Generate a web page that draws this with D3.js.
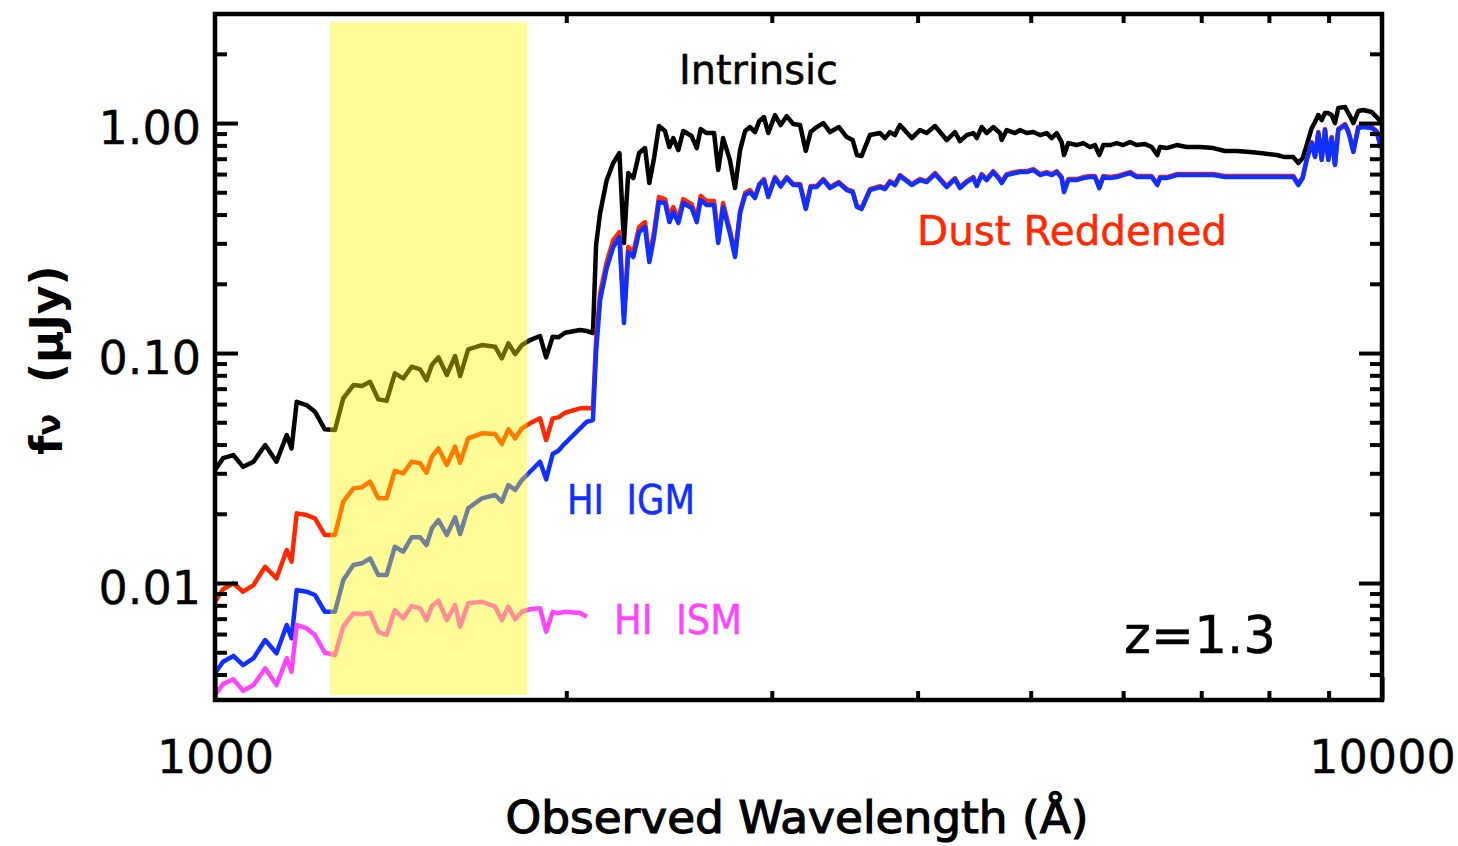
<!DOCTYPE html>
<html>
<head>
<meta charset="utf-8">
<script src="https://cdn.jsdelivr.net/npm/d3@7"></script>
<style>
  body { margin: 0; background: #fff; }
  svg text { font-family: "DejaVu Sans", sans-serif; }
</style>
</head>
<body>
<svg id="chart" width="1458" height="846"></svg>
<script>
const WIDTH = 1458;
const HEIGHT = 846;
const plot = { left: 215, right: 1382, top: 14, bottom: 700 };

/* UV side: all four spectra share this wavelength grid (Angstrom) */
const waveUV = [1000, 1016, 1037, 1057, 1079, 1104, 1129, 1152, 1163, 1175, 1198, 1218, 1242, 1267, 1288,
  1314, 1336, 1358, 1380, 1403, 1426, 1450, 1474, 1499, 1518, 1534, 1554, 1580, 1606, 1622,
  1648, 1693, 1738, 1761, 1784, 1808, 1832, 1862, 1899, 1922, 1947, 1969, 1995, 2055, 2083];
const intrinsicUV = [0.0310, 0.0349, 0.0360, 0.0320, 0.0337, 0.0398, 0.0337, 0.0440, 0.0385, 0.0614, 0.0594, 0.0556, 0.0466, 0.0463, 0.0635,
  0.0726, 0.0719, 0.0750, 0.0629, 0.0620, 0.0816, 0.0776, 0.0872, 0.0849, 0.0763, 0.0887, 0.0958, 0.0802, 0.0971, 0.0794,
  0.1038, 0.1083, 0.1065, 0.0948, 0.1102, 0.0990, 0.1083, 0.1139, 0.1186, 0.0958, 0.1177, 0.1170, 0.1225, 0.1259, 0.1246];
const reddenedUV = [0.00829, 0.00939, 0.00997, 0.00917, 0.00980, 0.01177, 0.01048, 0.01392, 0.01238, 0.02009, 0.01975, 0.01911, 0.01617, 0.01617, 0.02257,
  0.02580, 0.02607, 0.02757, 0.02335, 0.02335, 0.03078, 0.02999, 0.03368, 0.03315, 0.03017, 0.03540, 0.03853, 0.03259, 0.03915, 0.03334,
  0.04256, 0.04475, 0.04444, 0.04020, 0.04659, 0.04256, 0.04705, 0.04946, 0.05200, 0.04184, 0.05200, 0.05252, 0.05499, 0.05750, 0.05767];
const igmUV = [0.00405, 0.00455, 0.00482, 0.00440, 0.00471, 0.00565, 0.00495, 0.00657, 0.00575, 0.00932, 0.00917, 0.00887, 0.00750, 0.00750, 0.01030,
  0.01197, 0.01218, 0.01280, 0.01083, 0.01083, 0.01438, 0.01368, 0.01580, 0.01580, 0.01463, 0.01729, 0.01879, 0.01617, 0.01930, 0.01633,
  0.02113, 0.02335, 0.02414, 0.02257, 0.02668, 0.02537, 0.02804, 0.03047, 0.03368, 0.02824, 0.03638, 0.03760, 0.04049, 0.04705, 0.05028];
const ismUV = [0.00326, 0.00364, 0.00381, 0.00340, 0.00360, 0.00426, 0.00360, 0.00471, 0.00411, 0.00657, 0.00635, 0.00594, 0.00498, 0.00486, 0.00646,
  0.00738, 0.00731, 0.00743, 0.00614, 0.00594, 0.00763, 0.00702, 0.00794, 0.00776, 0.00690, 0.00794, 0.00838, 0.00690, 0.00802, 0.00646,
  0.00816, 0.00829, 0.00789, 0.00690, 0.00789, 0.00695, 0.00750, 0.00769, 0.00776, 0.00614, 0.00750, 0.00738, 0.00750, 0.00741, 0.00714];

/* optical side: intrinsic, reddened and IGM only (ISM curve stops at ~2080 A) */
const waveOpt = [2108, 2121, 2138, 2166, 2194, 2221, 2241, 2260, 2283, 2309, 2336, 2356, 2378, 2401, 2430,
  2451, 2470, 2495, 2519, 2561, 2587, 2607, 2638, 2677, 2699, 2725, 2762, 2790, 2818, 2846,
  2874, 2902, 2927, 2954, 2979, 3019, 3053, 3090, 3130, 3172, 3208, 3239, 3278, 3321, 3365,
  3425, 3478, 3519, 3549, 3581, 3641, 3714, 3751, 3788, 3825, 3863, 3954, 4019, 4072, 4140,
  4236, 4306, 4349, 4407, 4465, 4495, 4539, 4584, 4644, 4706, 4722, 4769, 4848, 4895, 4961,
  5026, 5093, 5160, 5212, 5263, 5315, 5340, 5385, 5475, 5547, 5621, 5676, 5725, 5770, 5847,
  5925, 6002, 6082, 6163, 6265, 6348, 6419, 6453, 6539, 6669, 6802, 6983, 7169, 7336, 7507,
  7707, 7861, 8124, 8258, 8395, 8478, 8552, 8619, 8705, 8762, 8819, 8878, 8936, 8995, 9055,
  9114, 9174, 9296, 9357, 9388, 9450, 9543, 9638, 9799, 9896, 9980];
const intrinsicOpt = [0.1222, 0.2948, 0.4062, 0.5652, 0.6701, 0.7407, 0.3008, 0.6063, 0.5767, 0.7407, 0.7786, 0.5484, 0.7045, 0.9704, 0.9231,
  0.7864, 0.8605, 0.7632, 0.9231, 0.8780, 0.7786, 0.9417, 0.9049, 0.9049, 0.6248, 0.8605, 0.6905, 0.5217, 0.7632, 0.9231,
  0.9608, 0.9139, 1.0202, 1.0619, 0.9049, 1.0834, 0.9802, 1.0726, 0.9901, 0.9802, 0.7556, 0.9139, 0.9608, 1.0000, 0.9139,
  0.9608, 0.8694, 0.8435, 0.7260, 0.7187, 0.8867, 0.9049, 0.8605, 0.9139, 0.8867, 0.9802, 0.8605, 0.9324, 0.9049, 0.9704,
  0.8435, 0.9139, 0.8349, 0.8867, 0.9049, 0.8605, 0.9608, 0.9049, 0.9608, 0.9049, 0.8435, 0.9324, 0.9049, 0.9324, 0.9049,
  0.9139, 0.8867, 0.9049, 0.8605, 0.9049, 0.8269, 0.7260, 0.8185, 0.8023, 0.8185, 0.7864, 0.8023, 0.7260, 0.8023, 0.8023,
  0.8185, 0.8023, 0.8269, 0.8023, 0.8102, 0.7864, 0.7260, 0.7864, 0.7786, 0.8023, 0.7864, 0.7864, 0.7786, 0.7556, 0.7556,
  0.7480, 0.7407, 0.7260, 0.7113, 0.7113, 0.6701, 0.7045, 0.8023, 0.9512, 1.0101, 1.0834, 1.0305, 1.1052, 1.1052, 1.0834,
  1.0000, 1.1622, 1.1738, 1.1052, 1.0726, 1.0000, 1.1277, 1.1390, 1.1165, 1.0619, 1.0101];
const reddenedOpt = [0.05737, 0.1139, 0.1824, 0.2487, 0.3099, 0.3357, 0.1463, 0.2890, 0.2749, 0.3530, 0.3711, 0.2615, 0.3357, 0.4768, 0.4672,
  0.3903, 0.4313, 0.3825, 0.4672, 0.4444, 0.3863, 0.4816, 0.4580, 0.4580, 0.3099, 0.4490, 0.3425, 0.2694, 0.4145, 0.4963,
  0.5114, 0.4768, 0.5430, 0.5710, 0.4816, 0.5825, 0.5349, 0.5825, 0.5430, 0.5430, 0.4270, 0.5323, 0.5323, 0.5710, 0.5270,
  0.5539, 0.5165, 0.5062, 0.4356, 0.4270, 0.5165, 0.5323, 0.5216, 0.5594, 0.5430, 0.5943, 0.5430, 0.5710, 0.5594, 0.6060,
  0.5323, 0.5767, 0.5270, 0.5594, 0.5825, 0.5376, 0.6000, 0.5710, 0.6180, 0.5710, 0.5539, 0.6000, 0.6124, 0.6180, 0.6180,
  0.6310, 0.6000, 0.6124, 0.6000, 0.6180, 0.5825, 0.5062, 0.5710, 0.5710, 0.5825, 0.5882, 0.5882, 0.5270, 0.5882, 0.5825,
  0.5882, 0.6000, 0.6124, 0.5882, 0.5882, 0.5882, 0.5430, 0.5825, 0.5825, 0.6000, 0.6000, 0.6000, 0.6000, 0.5882, 0.5882,
  0.5882, 0.5882, 0.5882, 0.5882, 0.5882, 0.5430, 0.5825, 0.6974, 0.8267, 0.7184, 0.9139, 0.6974, 0.9417, 0.6974, 0.8691,
  0.6634, 0.9417, 0.9900, 0.9230, 0.8691, 0.7555, 0.9607, 0.9704, 0.9607, 0.9230, 0.7864];
const igmOpt = [0.05114, 0.1010, 0.1700, 0.2342, 0.2890, 0.3194, 0.1350, 0.2749, 0.2615, 0.3357, 0.3530, 0.2487, 0.3194, 0.4534, 0.4490,
  0.3711, 0.4103, 0.3674, 0.4490, 0.4270, 0.3711, 0.4627, 0.4399, 0.4399, 0.3008, 0.4313, 0.3324, 0.2615, 0.4062, 0.4864,
  0.5012, 0.4720, 0.5376, 0.5652, 0.4768, 0.5767, 0.5296, 0.5767, 0.5376, 0.5376, 0.4228, 0.5270, 0.5270, 0.5652, 0.5217,
  0.5484, 0.5114, 0.5012, 0.4313, 0.4228, 0.5114, 0.5270, 0.5164, 0.5539, 0.5376, 0.5884, 0.5376, 0.5652, 0.5539, 0.6000,
  0.5270, 0.5710, 0.5217, 0.5539, 0.5767, 0.5323, 0.5941, 0.5652, 0.6119, 0.5652, 0.5484, 0.5941, 0.6063, 0.6119, 0.6119,
  0.6248, 0.5941, 0.6063, 0.5941, 0.6119, 0.5767, 0.5012, 0.5652, 0.5652, 0.5767, 0.5824, 0.5824, 0.5217, 0.5824, 0.5767,
  0.5824, 0.5941, 0.6063, 0.5824, 0.5824, 0.5824, 0.5376, 0.5767, 0.5767, 0.5941, 0.5941, 0.5941, 0.5941, 0.5824, 0.5824,
  0.5824, 0.5824, 0.5824, 0.5824, 0.5824, 0.5376, 0.5767, 0.6905, 0.8185, 0.7113, 0.9049, 0.6905, 0.9324, 0.6905, 0.8605,
  0.6568, 0.9324, 0.9802, 0.9139, 0.8605, 0.7480, 0.9512, 0.9608, 0.9512, 0.9139, 0.7786];

/* shaded filter band, wavelength and flux limits */
const bandWave = [1255, 1852];
const bandFlux = [0.00326, 2.75];

const yMajor = [0.01, 0.1, 1];
const yMinor = [0.004, 0.005, 0.006, 0.007, 0.008, 0.009, 0.02, 0.03, 0.04, 0.05, 0.06, 0.07, 0.08, 0.09,
  0.2, 0.3, 0.4, 0.5, 0.6, 0.7, 0.8, 0.9, 2];
const yLabels = ["0.01", "0.10", "1.00"];
const xMajor = [1000, 10000];
const xMinor = [2000, 3000, 4000, 5000, 6000, 7000, 8000, 9000];

const series = [
  { name: "Intrinsic", color: "#000000", wave: waveUV.concat(waveOpt), flux: intrinsicUV.concat(intrinsicOpt) },
  { name: "Dust Reddened", color: "#ff2800", wave: waveUV.concat(waveOpt), flux: reddenedUV.concat(reddenedOpt) },
  { name: "HI IGM", color: "#1030ff", wave: waveUV.concat(waveOpt), flux: igmUV.concat(igmOpt) },
  { name: "HI ISM", color: "#ff44ff", wave: waveUV, flux: ismUV },
];

const svg = d3.select("#chart").attr("width", WIDTH).attr("height", HEIGHT);

const x = d3.scaleLog().domain([1000, 10000]).range([plot.left, plot.right]);
const y = d3.scaleLog().domain([0.0031, 2.98]).range([plot.bottom, plot.top]);

const line = d3.line()
  .x((d) => x(d[0]))
  .y((d) => y(d[1]));

// spectra
svg.append("g")
  .selectAll("path")
  .data(series)
  .enter()
  .append("path")
  .attr("d", (s) => line(s.wave.map((w, i) => [w, s.flux[i]])))
  .attr("fill", "none")
  .attr("stroke", (s) => s.color)
  .attr("stroke-width", 4.5)
  .attr("stroke-linejoin", "round");

// translucent yellow band drawn over the lines
svg.append("rect")
  .attr("x", x(bandWave[0]))
  .attr("width", x(bandWave[1]) - x(bandWave[0]))
  .attr("y", y(bandFlux[1]))
  .attr("height", y(bandFlux[0]) - y(bandFlux[1]))
  .attr("fill", "rgb(255,245,0)")
  .attr("fill-opacity", 0.41);

/* axes: IDL style, ticks pointing inward on all four sides */
function styleAxis(g) {
  g.select(".domain").remove();
  g.selectAll(".tick line").attr("stroke", "#000").attr("stroke-width", 4);
  g.selectAll(".tick text")
    .attr("fill", "#000")
    .attr("stroke", "#000")
    .attr("stroke-width", 0.4)
    .style("font-family", '"DejaVu Sans", sans-serif')
    .style("font-size", "46px");
}

const W = plot.right - plot.left;
const H = plot.bottom - plot.top;

svg.append("g").attr("transform", `translate(${plot.left},0)`)
  .call(d3.axisLeft(y).tickValues(yMajor).tickSize(-23).tickPadding(14)
    .tickFormat((d, i) => yLabels[i]))
  .call(styleAxis)
  .call((g) => g.selectAll(".tick text").attr("dy", null).attr("y", 20));
svg.append("g").attr("transform", `translate(${plot.left},0)`)
  .call(d3.axisLeft(y).tickValues(yMinor).tickSize(-12).tickFormat(""))
  .call(styleAxis);
svg.append("g").attr("transform", `translate(${plot.right},0)`)
  .call(d3.axisRight(y).tickValues(yMajor).tickSize(-23).tickFormat(""))
  .call(styleAxis);
svg.append("g").attr("transform", `translate(${plot.right},0)`)
  .call(d3.axisRight(y).tickValues(yMinor).tickSize(-12).tickFormat(""))
  .call(styleAxis);

svg.append("g").attr("transform", `translate(0,${plot.bottom})`)
  .call(d3.axisBottom(x).tickValues(xMajor).tickSize(-23).tickPadding(41)
    .tickFormat(d3.format("d")))
  .call(styleAxis)
  .call((g) => g.selectAll(".tick text").attr("dy", null).attr("y", 73));
svg.append("g").attr("transform", `translate(0,${plot.bottom})`)
  .call(d3.axisBottom(x).tickValues(xMinor).tickSize(-9).tickFormat(""))
  .call(styleAxis);
svg.append("g").attr("transform", `translate(0,${plot.top})`)
  .call(d3.axisTop(x).tickValues(xMinor).tickSize(-9).tickFormat(""))
  .call(styleAxis);

// frame
svg.append("rect")
  .attr("x", plot.left)
  .attr("y", plot.top)
  .attr("width", W)
  .attr("height", H)
  .attr("fill", "none")
  .attr("stroke", "#000")
  .attr("stroke-width", 4.5);

// axis titles
svg.append("text")
  .attr("x", 797)
  .attr("y", 833)
  .attr("text-anchor", "middle")
  .attr("stroke", "#000")
  .attr("stroke-width", 1.2)
  .attr("textLength", 583)
  .attr("lengthAdjust", "spacingAndGlyphs")
  .style("font-size", "45px")
  .text("Observed Wavelength (Å)");

const yTitle = svg.append("text")
  .attr("transform", "translate(62,360) rotate(-90)")
  .attr("text-anchor", "middle")
  .style("font-weight", "bold")
  .style("font-size", "44px");
yTitle.append("tspan").text("f");
yTitle.append("tspan").attr("dy", -2).style("font-size", "32px").text("ν");
yTitle.append("tspan").attr("dy", 2).attr("xml:space", "preserve").text("  (μJy)");

// curve labels
const labels = [
  { text: "Intrinsic", x: 679, y: 84, size: 40, len: 159, color: "#000000" },
  { text: "Dust Reddened", x: 917, y: 245, size: 40, len: 310, color: "#ff2800" },
  { text: "HI  IGM", x: 567, y: 514, size: 40, len: 128, color: "#1030ff" },
  { text: "HI  ISM", x: 614, y: 634, size: 40, len: 128, color: "#ff44ff" },
  { text: "z=1.3", x: 1124, y: 653, size: 52, len: 152, color: "#000000" },
];
svg.append("g")
  .selectAll("text")
  .data(labels)
  .enter()
  .append("text")
  .attr("x", (d) => d.x)
  .attr("y", (d) => d.y)
  .attr("fill", (d) => d.color)
  .attr("stroke", (d) => d.color)
  .attr("stroke-width", 0.5)
  .attr("textLength", (d) => d.len)
  .attr("lengthAdjust", "spacingAndGlyphs")
  .attr("xml:space", "preserve")
  .style("font-size", (d) => d.size + "px")
  .text((d) => d.text);
</script>
</body>
</html>
